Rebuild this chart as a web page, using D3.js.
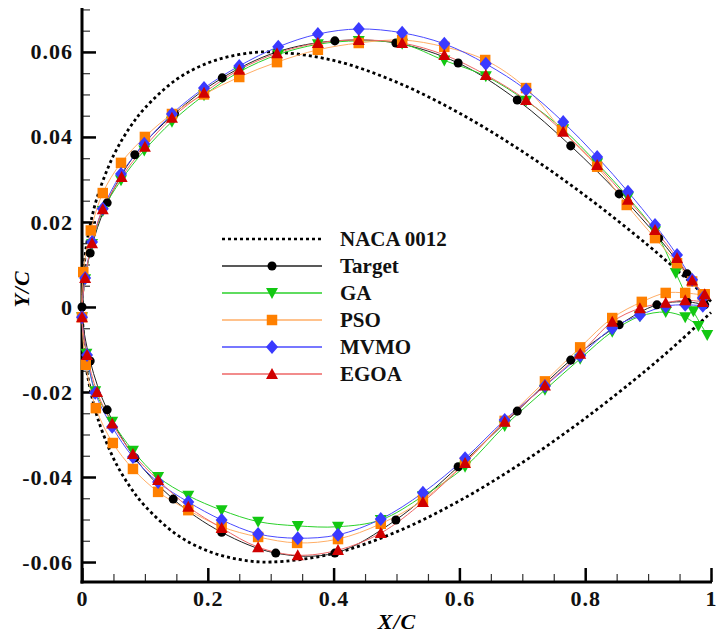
<!DOCTYPE html>
<html>
<head>
<meta charset="utf-8">
<script src="https://cdn.jsdelivr.net/npm/d3@7"></script>
<style>
  body { margin: 0; background: #fff; }
  svg { display: block; }
  .tick text { font-family: "Liberation Serif", serif; font-weight: bold; font-size: 22px; letter-spacing: 1px; fill: #111; }
</style>
</head>
<body>
<div id="chart"></div>
<script>
// NACA 0012 half thickness
const nacaX = [0, 0.005, 0.0125, 0.025, 0.05, 0.075, 0.1, 0.15, 0.2, 0.25, 0.3, 0.4, 0.5, 0.6, 0.7, 0.8, 0.9, 0.95, 1.0];
const nacaY = [0, 0.0122, 0.0189, 0.0262, 0.0356, 0.042, 0.0468, 0.0535, 0.0574, 0.0594, 0.06, 0.058, 0.0529, 0.0456, 0.0366, 0.0262, 0.0145, 0.0081, 0.0013];

// Target
const targetUpperX = [0.013, 0.040, 0.084, 0.147, 0.223, 0.310, 0.402, 0.499, 0.598, 0.692, 0.777, 0.854, 0.917, 0.962, 0.990];
const targetUpperY = [0.0127, 0.0245, 0.0358, 0.0455, 0.0539, 0.0600, 0.0626, 0.0621, 0.0574, 0.0487, 0.0379, 0.0266, 0.0162, 0.0078, 0.0020];
const targetLowerX = [0, 0.013, 0.040, 0.084, 0.145, 0.222, 0.308, 0.402, 0.499, 0.598, 0.692, 0.777, 0.854, 0.914, 0.962, 0.990];
const targetLowerY = [0, -0.0127, -0.0242, -0.0355, -0.0452, -0.0530, -0.0579, -0.0579, -0.0501, -0.0376, -0.0245, -0.0125, -0.0042, 0.0005, 0.0012, 0.0005];

// GA
const gaUpperX = [0.005, 0.016, 0.033, 0.062, 0.099, 0.143, 0.194, 0.250, 0.312, 0.375, 0.440, 0.509, 0.576, 0.642, 0.706, 0.765, 0.819, 0.868, 0.911, 0.944, 0.972, 0.994];
const gaUpperY = [0.0065, 0.0148, 0.0226, 0.0298, 0.0368, 0.0436, 0.0498, 0.0553, 0.0594, 0.0618, 0.0626, 0.0619, 0.0580, 0.0543, 0.0485, 0.0418, 0.0338, 0.0258, 0.0178, 0.0080, -0.0010, -0.0066];
const gaLowerX = [0, 0.007, 0.021, 0.048, 0.081, 0.121, 0.169, 0.222, 0.280, 0.343, 0.407, 0.475, 0.542, 0.609, 0.672, 0.736, 0.792, 0.843, 0.887, 0.928, 0.959, 0.980];
const gaLowerY = [-0.0024, -0.0110, -0.0198, -0.0270, -0.0338, -0.0400, -0.0444, -0.0478, -0.0505, -0.0515, -0.0517, -0.0501, -0.0445, -0.0376, -0.0280, -0.0195, -0.0122, -0.0058, -0.0022, -0.0012, -0.0024, -0.0045];

// PSO
const psoUpperX = [0.002, 0.014, 0.033, 0.062, 0.100, 0.143, 0.194, 0.250, 0.310, 0.375, 0.440, 0.509, 0.576, 0.641, 0.706, 0.763, 0.819, 0.866, 0.911, 0.946, 0.970, 0.990];
const psoUpperY = [0.0082, 0.0180, 0.0268, 0.0339, 0.0400, 0.0454, 0.0500, 0.0541, 0.0576, 0.0605, 0.0621, 0.0628, 0.0612, 0.0581, 0.0515, 0.0416, 0.0330, 0.0240, 0.0162, 0.0103, 0.0060, 0.0030];
const psoLowerX = [0, 0.006, 0.022, 0.049, 0.081, 0.121, 0.169, 0.222, 0.280, 0.342, 0.407, 0.475, 0.542, 0.609, 0.672, 0.736, 0.792, 0.843, 0.890, 0.928, 0.959, 0.987];
const psoLowerY = [-0.0024, -0.0136, -0.0238, -0.0320, -0.0381, -0.0435, -0.0478, -0.0517, -0.0541, -0.0555, -0.0546, -0.0510, -0.0454, -0.0365, -0.0268, -0.0175, -0.0095, -0.0026, 0.0012, 0.0033, 0.0033, 0.0028];

// MVMO
const mvmoUpperX = [0.005, 0.016, 0.033, 0.062, 0.099, 0.143, 0.194, 0.250, 0.312, 0.375, 0.440, 0.509, 0.576, 0.642, 0.706, 0.765, 0.819, 0.868, 0.911, 0.946, 0.970, 0.987];
const mvmoUpperY = [0.0068, 0.0153, 0.0231, 0.0313, 0.0384, 0.0454, 0.0515, 0.0567, 0.0612, 0.0642, 0.0654, 0.0645, 0.0619, 0.0572, 0.0511, 0.0435, 0.0353, 0.0271, 0.0193, 0.0122, 0.0064, 0.0021];
const mvmoLowerX = [0, 0.008, 0.021, 0.048, 0.081, 0.121, 0.169, 0.222, 0.280, 0.343, 0.407, 0.475, 0.542, 0.609, 0.672, 0.736, 0.792, 0.843, 0.887, 0.928, 0.959, 0.987];
const mvmoLowerY = [-0.0024, -0.0113, -0.0202, -0.0282, -0.0353, -0.0412, -0.0459, -0.0501, -0.0534, -0.0544, -0.0536, -0.0499, -0.0437, -0.0356, -0.0266, -0.0186, -0.0115, -0.0050, -0.0019, 0.0002, 0.0005, 0.0003];

// EGOA
const egoaUpperX = [0.005, 0.016, 0.033, 0.063, 0.100, 0.143, 0.194, 0.250, 0.310, 0.375, 0.440, 0.509, 0.576, 0.642, 0.706, 0.765, 0.819, 0.868, 0.911, 0.946, 0.970, 0.990];
const egoaUpperY = [0.0068, 0.0150, 0.0230, 0.0306, 0.0377, 0.0445, 0.0504, 0.0558, 0.0597, 0.0621, 0.0628, 0.0621, 0.0593, 0.0546, 0.0487, 0.0412, 0.0334, 0.0252, 0.0181, 0.0115, 0.0062, 0.0030];
const egoaLowerX = [0, 0.008, 0.024, 0.048, 0.081, 0.121, 0.169, 0.222, 0.280, 0.343, 0.407, 0.475, 0.542, 0.609, 0.672, 0.736, 0.792, 0.843, 0.887, 0.928, 0.959, 0.987];
const egoaLowerY = [-0.0024, -0.0113, -0.0200, -0.0274, -0.0346, -0.0407, -0.0470, -0.0520, -0.0565, -0.0584, -0.0572, -0.0532, -0.0459, -0.0367, -0.0270, -0.0185, -0.0110, -0.0035, -0.0003, 0.0010, 0.0016, 0.0012];

const legendNames = ["NACA 0012", "Target", "GA", "PSO", "MVMO", "EGOA"];
const xMajorTicks = [0, 0.2, 0.4, 0.6, 0.8, 1];
const yMajorTicks = [-0.06, -0.04, -0.02, 0, 0.02, 0.04, 0.06];

const W = 716, H = 639;
const svg = d3.select("#chart").append("svg").attr("width", W).attr("height", H);

const x = d3.scaleLinear().domain([0, 1]).range([82, 711]);
const y = d3.scaleLinear().domain([-0.0647, 0.0701]).range([582, 9]);

const zip = (xs, ys) => xs.map((v, i) => [v, ys[i]]);
// closed outline: upper from trailing edge to nose, then lower back to trailing edge
const outline = (ux, uy, lx, ly) => zip(ux, uy).reverse().concat(zip(lx, ly));

const line = d3.line().x((d) => x(d[0])).y((d) => y(d[1])).curve(d3.curveCatmullRom.alpha(0.5));

const series = [
  { name: "Target", pts: outline(targetUpperX, targetUpperY, targetLowerX, targetLowerY), line: "#222", marker: "#000", shape: "circle" },
  { name: "GA", pts: outline(gaUpperX, gaUpperY, gaLowerX, gaLowerY), line: "#2ad12a", marker: "#12c812", shape: "tridown" },
  { name: "PSO", pts: outline(psoUpperX, psoUpperY, psoLowerX, psoLowerY), line: "#ffae66", marker: "#ff8000", shape: "square" },
  { name: "MVMO", pts: outline(mvmoUpperX, mvmoUpperY, mvmoLowerX, mvmoLowerY), line: "#4a4aff", marker: "#3a3aff", shape: "diamond" },
  { name: "EGOA", pts: outline(egoaUpperX, egoaUpperY, egoaLowerX, egoaLowerY), line: "#e66", marker: "#d00000", shape: "triup" }
];

const symbolPath = (shape) => {
  if (shape === "circle") return d3.symbol(d3.symbolCircle, 64)();
  if (shape === "square") return d3.symbol(d3.symbolSquare, 110)();
  if (shape === "diamond") return "M0,-7L6,0L0,7L-6,0Z";
  if (shape === "triup") return "M0,-6L6,5L-6,5Z";
  return "M0,6L6,-5L-6,-5Z";
};

// axes: minor ticks, major ticks, both pointing inward
const xMinor = d3.range(0, 1.0001, 0.05);
const yMinor = d3.range(-0.06, 0.0701, 0.005);

svg.append("g").attr("transform", "translate(0,582)")
  .call(d3.axisBottom(x).tickValues(xMinor).tickSizeInner(-8).tickSizeOuter(0).tickFormat(""))
  .call((g) => g.select(".domain").remove())
  .selectAll("line").attr("stroke", "#333").attr("stroke-width", 1.2);
svg.append("g").attr("transform", "translate(82,0)")
  .call(d3.axisLeft(y).tickValues(yMinor).tickSizeInner(-8).tickSizeOuter(0).tickFormat(""))
  .call((g) => g.select(".domain").remove())
  .selectAll("line").attr("stroke", "#333").attr("stroke-width", 1.2);

const xAxis = svg.append("g").attr("transform", "translate(0,582)")
  .call(d3.axisBottom(x).tickValues(xMajorTicks).tickSizeInner(-14).tickSizeOuter(0).tickPadding(8)
    .tickFormat((d) => d === 0 || d === 1 ? String(d) : d.toFixed(1)));
xAxis.select(".domain").remove();
xAxis.selectAll("line").attr("stroke", "#000").attr("stroke-width", 2.5);

const yAxis = svg.append("g").attr("transform", "translate(82,0)")
  .call(d3.axisLeft(y).tickValues(yMajorTicks).tickSizeInner(-14).tickSizeOuter(0).tickPadding(9)
    .tickFormat((d) => d === 0 ? "0" : d.toFixed(2)));
yAxis.select(".domain").remove();
yAxis.selectAll("line").attr("stroke", "#000").attr("stroke-width", 2.5);

// axis lines
svg.append("line").attr("x1", 80.5).attr("x2", 712).attr("y1", 582).attr("y2", 582).attr("stroke", "#000").attr("stroke-width", 3);
svg.append("line").attr("x1", 82).attr("x2", 82).attr("y1", 8).attr("y2", 583.5).attr("stroke", "#000").attr("stroke-width", 3);

// NACA 0012 dotted outline
const nacaPts = outline(nacaX, nacaY, nacaX, nacaY.map((v) => -v));
svg.append("path").attr("d", line(nacaPts)).attr("fill", "none")
  .attr("stroke", "#000").attr("stroke-width", 2.8).attr("stroke-dasharray", "3,3");

series.forEach((s) => {
  svg.append("path").attr("d", line(s.pts)).attr("fill", "none").attr("stroke", s.line).attr("stroke-width", 1);
});
series.forEach((s) => {
  svg.append("g").selectAll("path").data(s.pts).enter().append("path")
    .attr("d", symbolPath(s.shape))
    .attr("transform", (d) => `translate(${x(d[0])},${y(d[1])})`)
    .attr("fill", s.marker);
});

// legend
const lg = svg.append("g");
const rowY = (i) => 239 + i * 27;
legendNames.forEach((name, i) => {
  const row = lg.append("g").attr("transform", `translate(0,${rowY(i)})`);
  if (i === 0) {
    row.append("line").attr("x1", 222).attr("x2", 322).attr("stroke", "#000").attr("stroke-width", 2.5).attr("stroke-dasharray", "3,3");
  } else {
    const s = series[i - 1];
    row.append("line").attr("x1", 222).attr("x2", 322).attr("stroke", s.line).attr("stroke-width", 1.3);
    row.append("path").attr("d", symbolPath(s.shape)).attr("transform", "translate(272,0)").attr("fill", s.marker);
  }
  row.append("text").attr("x", 340).attr("y", 7).text(name)
    .style("font-family", "Liberation Serif, serif").style("font-weight", "bold").style("font-size", "21px").attr("fill", "#111");
});

// axis titles
svg.append("text").attr("x", 397).attr("y", 629).attr("text-anchor", "middle").text("X/C")
  .style("font-family", "Liberation Serif, serif").style("font-weight", "bold").style("font-style", "italic").style("font-size", "22px").style("letter-spacing", "1px");
svg.append("text").attr("transform", "translate(29,289) rotate(-90)").attr("text-anchor", "middle").text("Y/C")
  .style("font-family", "Liberation Serif, serif").style("font-weight", "bold").style("font-style", "italic").style("font-size", "22px").style("letter-spacing", "1px");
</script>
</body>
</html>
